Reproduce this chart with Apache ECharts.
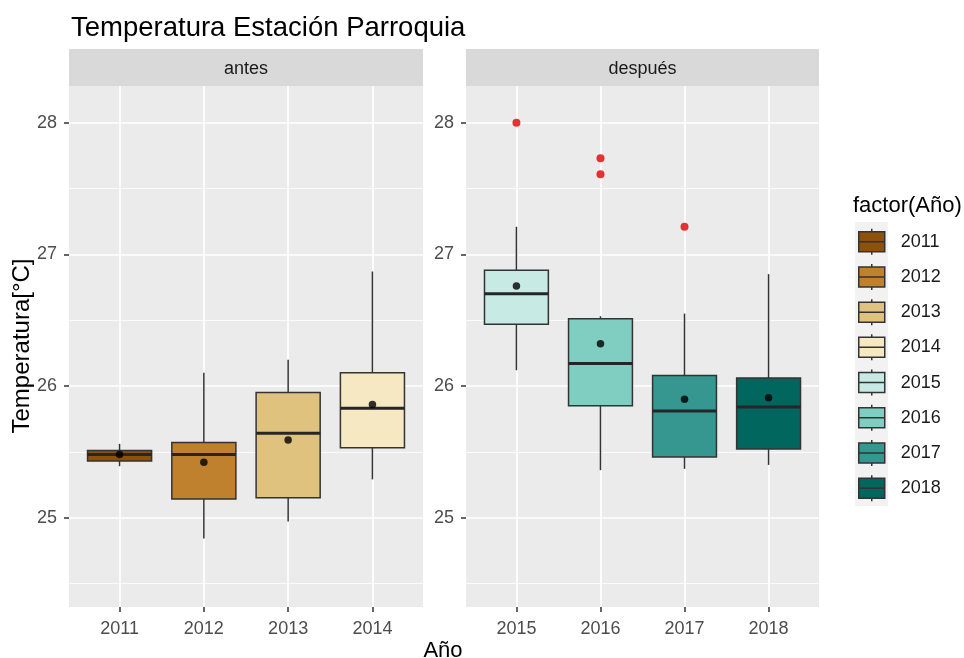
<!DOCTYPE html>
<html><head><meta charset="utf-8">
<script src="https://cdn.jsdelivr.net/npm/echarts@6/dist/echarts.min.js"></script>
<style>html,body{margin:0;padding:0;background:#fff}#c{width:964px;height:658px}</style>
</head><body><div id="c"></div>
<script>
// ---- data ----
const years = ['2011','2012','2013','2014','2015','2016','2017','2018'];
const panelNames = ['antes','después'];
const panelOfYear = [0,0,0,0,1,1,1,1];
const whiskerLow  = [25.39,24.84,24.97,25.29,26.12,25.36,25.37,25.40];
const q1          = [25.43,25.14,25.15,25.53,26.47,25.85,25.46,25.52];
const median      = [25.48,25.48,25.64,25.83,26.70,26.17,25.81,25.84];
const q3          = [25.51,25.57,25.95,26.10,26.88,26.51,26.08,26.06];
const whiskerHigh = [25.56,26.10,26.20,26.87,27.21,26.53,26.55,26.85];
const means       = [25.48,25.42,25.59,25.86,26.76,26.32,25.90,25.91];
const outlierYear  = ['2015','2016','2016','2017'];
const outlierValue = [28.00,27.73,27.61,27.21];
const yMajorTicks = [25,26,27,28];
const yMinorTicks = [24.5,25.5,26.5,27.5];
const yRange = [24.32, 28.28];
const colors = ['#8C510A','#BF812D','#DFC27D','#F6E8C3','#C7EAE5','#80CDC1','#35978F','#01665E'];

// ---- layout / style ----
const FONT = 'Liberation Sans, Arial, sans-serif';
const BOX_W = 0.76;
const panels = [
  {left:69, top:86, width:354, height:521},
  {left:466, top:86, width:353, height:521}
];
const yearsInPanel = p => years.filter((_, i) => panelOfYear[i] === p);
const posOf = i => yearsInPanel(panelOfYear[i]).indexOf(years[i]) + 1;
const catTicks = [1,2,3,4];

const chart = echarts.init(document.getElementById('c'), null, {renderer:'canvas'});

const grids = panels.map(p => Object.assign({show:true, backgroundColor:'#EBEBEB', borderWidth:0, containLabel:false}, p));

const xAxes = panels.map((p, pi) => ({
  type:'value', gridIndex:pi, min:0.4, max:4.6,
  axisLine:{show:false},
  axisTick:{show:true, length:5, customValues:catTicks, lineStyle:{color:'#333333', width:1.5}},
  axisLabel:{show:true, customValues:catTicks, margin:13, color:'#4D4D4D', fontSize:18, fontFamily:FONT,
    formatter: v => yearsInPanel(pi)[Math.round(v) - 1] || ''},
  splitLine:{show:true, lineStyle:{color:'#FFFFFF', width:1.7}}
}));

const yAxes = [];
panels.forEach((p, pi) => {
  yAxes.push({
    type:'value', gridIndex:pi, min:yRange[0], max:yRange[1],
    axisLine:{show:false},
    axisTick:{show:true, length:5, customValues:yMajorTicks, lineStyle:{color:'#333333', width:1.5}},
    axisLabel:{show:true, customValues:yMajorTicks, margin:12, color:'#4D4D4D', fontSize:18, fontFamily:FONT},
    splitLine:{show:true, lineStyle:{color:'#FFFFFF', width:1.7}}
  });
  yAxes.push({
    type:'value', gridIndex:pi, min:yRange[0], max:yRange[1],
    axisLine:{show:false},
    axisTick:{show:false, customValues:yMinorTicks},
    axisLabel:{show:false, customValues:yMinorTicks},
    splitLine:{show:true, lineStyle:{color:'#FFFFFF', width:0.8}}
  });
});

function renderBox(params, api) {
  const x = api.value(0);
  const lo = api.coord([x, api.value(1)]);
  const b1 = api.coord([x, api.value(2)]);
  const md = api.coord([x, api.value(3)]);
  const b3 = api.coord([x, api.value(4)]);
  const hi = api.coord([x, api.value(5)]);
  const hw = api.size([BOX_W, 0])[0] / 2;
  const fill = api.visual('color');
  const edge = {stroke:'#333333', lineWidth:1.5};
  return {type:'group', children:[
    {type:'line', shape:{x1:hi[0], y1:hi[1], x2:b3[0], y2:b3[1]}, style:edge},
    {type:'line', shape:{x1:b1[0], y1:b1[1], x2:lo[0], y2:lo[1]}, style:edge},
    {type:'rect', shape:{x:b3[0]-hw, y:b3[1], width:2*hw, height:b1[1]-b3[1]},
      style:{fill:fill, stroke:'#333333', lineWidth:1.5}},
    {type:'line', shape:{x1:md[0]-hw, y1:md[1], x2:md[0]+hw, y2:md[1]},
      style:{stroke:'#262626', lineWidth:3}}
  ]};
}

const series = years.map((y, i) => ({
  name:y, type:'custom', xAxisIndex:panelOfYear[i], yAxisIndex:panelOfYear[i]*2,
  itemStyle:{color:colors[i]},
  encode:{x:0, y:[1,2,3,4,5]},
  renderItem:renderBox,
  data:[[posOf(i), whiskerLow[i], q1[i], median[i], q3[i], whiskerHigh[i]]],
  z:2
}));

panels.forEach((p, pi) => {
  series.push({
    name:'mean'+pi, type:'scatter', xAxisIndex:pi, yAxisIndex:pi*2,
    symbol:'circle', symbolSize:7.5, itemStyle:{color:'#000000'}, z:5,
    data: years.map((y, i) => panelOfYear[i] === pi ? [posOf(i), means[i]] : null).filter(d => d)
  });
  series.push({
    name:'outliers'+pi, type:'scatter', xAxisIndex:pi, yAxisIndex:pi*2,
    symbol:'circle', symbolSize:8, itemStyle:{color:'#E00000'}, z:5,
    data: outlierYear.map((y, k) => {
      const i = years.indexOf(y);
      return panelOfYear[i] === pi ? [posOf(i), outlierValue[k]] : null;
    }).filter(d => d)
  });
});

const graphics = [];
panels.forEach((p, pi) => {
  graphics.push({type:'rect', shape:{x:p.left, y:49, width:p.width, height:37}, style:{fill:'#D9D9D9'}, silent:true});
  graphics.push({type:'text', x:p.left + p.width/2, y:69, silent:true,
    style:{text:panelNames[pi], fill:'#1A1A1A', font:'18px ' + FONT, textAlign:'center', textVerticalAlign:'middle'}});
});
graphics.push({type:'rect', shape:{x:855, y:222, width:33, height:284}, style:{fill:'#F2F2F2'}, silent:true, z:-1});
graphics.push({type:'text', x:22, y:346, rotation:Math.PI/2, silent:true,
  style:{text:'Temperatura[°C]', fill:'#000000', font:'24px ' + FONT, textAlign:'center', textVerticalAlign:'middle'}});
graphics.push({type:'text', x:443, y:651, silent:true,
  style:{text:'Año', fill:'#000000', font:'22px ' + FONT, textAlign:'center', textVerticalAlign:'middle'}});
graphics.push({type:'text', x:853, y:206, silent:true,
  style:{text:'factor(Año)', fill:'#000000', font:'22px ' + FONT, textAlign:'left', textVerticalAlign:'middle'}});

const keyIcon = 'path://M13 0 V3 M0 3 H26 V23 H0 Z M0 13 H26 M13 23 V26';

chart.setOption({
  animation:false,
  backgroundColor:'#FFFFFF',
  title:{text:'Temperatura Estación Parroquia', left:66, top:9,
    textStyle:{fontSize:27.5, fontWeight:'normal', color:'#000000', fontFamily:FONT}},
  grid:grids,
  xAxis:xAxes,
  yAxis:yAxes,
  legend:{
    data:years, orient:'vertical', left:858, top:228, padding:0,
    itemWidth:26, itemHeight:26, itemGap:7.7, icon:keyIcon,
    itemStyle:{borderColor:'#333333', borderWidth:1.5},
    textStyle:{fontSize:18, color:'#1A1A1A', fontFamily:FONT, padding:[0,0,0,11]},
    selectedMode:false
  },
  graphic:graphics,
  series:series
});
</script></body></html>
